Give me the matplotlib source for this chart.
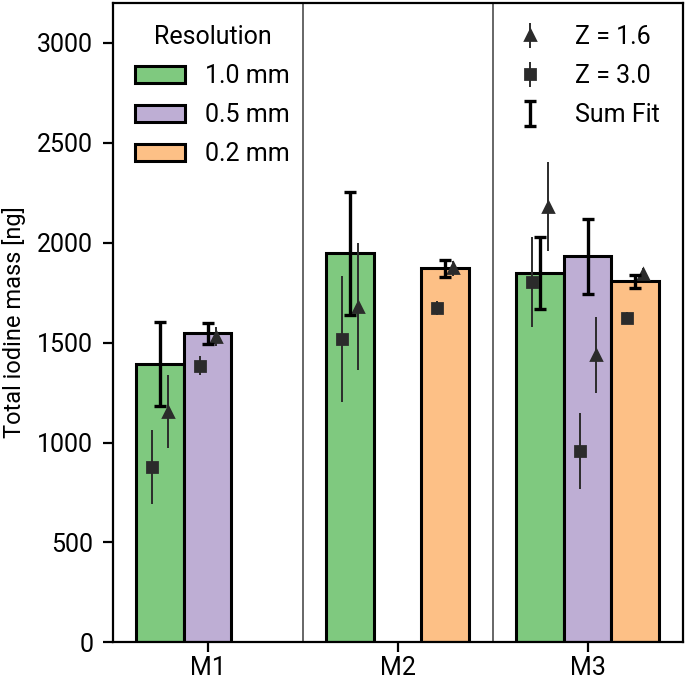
import matplotlib
matplotlib.use('Agg')
import matplotlib.pyplot as plt
import numpy as np

plt.rcParams['font.family'] = ['Roboto', 'DejaVu Sans']
plt.rcParams['font.size'] = 9

phantoms = ['M1', 'M2', 'M3']
resolutions = ['1.0 mm', '0.5 mm', '0.2 mm']
colors = ['#7fc97f', '#beaed4', '#fdc086']

# sum fit (bar height) and its error, rows = resolution, cols = phantom
sum_fit = np.array([[1393, 1947, 1846],
                    [1546, np.nan, 1931],
                    [np.nan, 1872, 1806]])
sum_err = np.array([[210, 308, 180],
                    [52, np.nan, 187],
                    [np.nan, 42, 33]])

# Z = 3.0 estimates
z30 = np.array([[877, 1517, 1802],
                [1385, np.nan, 958],
                [np.nan, 1673, 1625]])
z30_err = np.array([[184, 315, 224],
                    [47, np.nan, 188],
                    [np.nan, 34, 28]])

# Z = 1.6 estimates
z16 = np.array([[1155, 1680, 2180],
                [1530, np.nan, 1438],
                [np.nan, 1871, 1845]])
z16_err = np.array([[184, 316, 224],
                    [48, np.nan, 190],
                    [np.nan, 36, 28]])

fig = plt.figure(figsize=(3.425, 3.41), dpi=200)
ax = fig.add_axes([0.1645, 0.058, 0.832, 0.938])

x = np.arange(len(phantoms))
width = 0.25
shift = width / 6

bar_handles = []
for i, res in enumerate(resolutions):
    pos = x + (i - 1) * width
    b = ax.bar(pos, sum_fit[i], width, color=colors[i], edgecolor='black',
               linewidth=1.1, label=res, zorder=2)
    bar_handles.append(b)

    ax.errorbar(pos - shift, z30[i], yerr=z30_err[i], fmt='s', ms=3.6,
                color='#2b2b2b', elinewidth=0.7, zorder=3,
                label='Z = 3.0' if i == 0 else None)
    ax.errorbar(pos + shift, z16[i], yerr=z16_err[i], fmt='^', ms=3.8,
                color='#2b2b2b', elinewidth=0.7, zorder=3,
                label='Z = 1.6' if i == 0 else None)
    ax.errorbar(pos, sum_fit[i], yerr=sum_err[i], fmt='none', ecolor='black',
                elinewidth=1.2, capsize=2, capthick=1.2, zorder=4,
                label='Sum Fit' if i == 0 else None)

for sep in [0.5, 1.5]:
    ax.axvline(sep, color='0.3', linewidth=0.6, zorder=1)

ax.set_xlim(-0.5, 2.5)
ax.set_ylim(0, 3200)
ax.set_xticks(x)
ax.set_xticklabels(phantoms)
ax.tick_params(axis='x', pad=1.5)
ax.set_yticks(np.arange(0, 3001, 500))
ax.set_ylabel('Total iodine mass [ng]', fontsize=8.5, labelpad=4)
for s in ax.spines.values():
    s.set_linewidth(0.8)

leg1 = ax.legend(handles=bar_handles, title='Resolution', loc='upper left',
                 frameon=False, title_fontsize=9, labelspacing=0.6)
ax.add_artist(leg1)

h, l = ax.get_legend_handles_labels()
lookup = dict(zip(l, h))
order = ['Z = 1.6', 'Z = 3.0', 'Sum Fit']
ax.legend([lookup[k] for k in order], order, loc='upper right', frameon=False,
          labelspacing=0.6)

fig.savefig('out.png', dpi=200)
